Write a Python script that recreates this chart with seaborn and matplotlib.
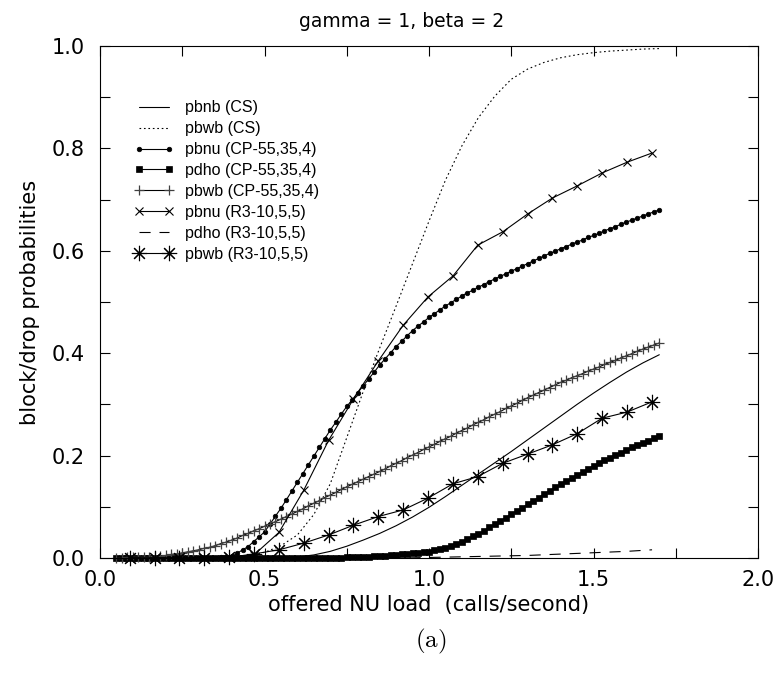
import numpy as np
import matplotlib
import matplotlib.pyplot as plt
import seaborn as sns
from matplotlib.ticker import MultipleLocator, FormatStrFormatter

matplotlib.use('Agg')

# x grids
x_cs = np.linspace(0.05, 1.70, 34)
x_cp = np.linspace(0.05, 1.70, 100)
x_r3 = [0.090, 0.166, 0.241, 0.317, 0.392, 0.468, 0.544, 0.619, 0.695, 0.770, 0.846,
        0.922, 0.997, 1.073, 1.148, 1.224, 1.300, 1.375, 1.451, 1.526, 1.602, 1.678]

# CS curves
pbnb_cs = [0, 0, 0, 0, 0, 0, 0, 0, 0.0002, 0.0005, 0.001, 0.002, 0.006, 0.013, 0.023,
           0.035, 0.048, 0.063, 0.080, 0.099, 0.120, 0.142, 0.164, 0.186, 0.208, 0.231,
           0.254, 0.277, 0.300, 0.322, 0.343, 0.363, 0.381, 0.397]
pbwb_cs = [0, 0, 0, 0, 0, 0.0002, 0.0005, 0.002, 0.005, 0.011, 0.024, 0.045, 0.085, 0.145,
           0.235, 0.325, 0.410, 0.492, 0.575, 0.658, 0.738, 0.805, 0.860, 0.902, 0.935,
           0.955, 0.968, 0.977, 0.983, 0.987, 0.990, 0.992, 0.994, 0.995]

# CP-55,35,4 curves
pbnu_cp = [0, 0, 0, 0, 0, 0, 0, 0, 0, 0, 0, 0, 0, 0, 0, 0, 0, 0,
           0.0005, 0.001, 0.002, 0.003, 0.009, 0.016, 0.022, 0.032, 0.041,
           0.051, 0.066, 0.082, 0.097, 0.114, 0.131, 0.148, 0.165, 0.182,
           0.199, 0.216, 0.233, 0.250, 0.265, 0.281, 0.296, 0.309, 0.323,
           0.336, 0.350, 0.363, 0.377, 0.389, 0.401, 0.413, 0.423, 0.434,
           0.444, 0.453, 0.461, 0.470, 0.477, 0.485, 0.492, 0.499, 0.505,
           0.512, 0.518, 0.523, 0.529, 0.534, 0.540, 0.545, 0.550, 0.555,
           0.560, 0.565, 0.570, 0.575, 0.580, 0.585, 0.590, 0.595, 0.599,
           0.604, 0.608, 0.613, 0.617, 0.621, 0.626, 0.630, 0.634, 0.639,
           0.643, 0.647, 0.652, 0.656, 0.660, 0.664, 0.668, 0.672, 0.676, 0.680]
pdho_cp = [0] * 39 + [
           0.0005, 0.0007, 0.0008, 0.001, 0.0013, 0.0017, 0.002, 0.0027, 0.0033,
           0.004, 0.0047, 0.0053, 0.006, 0.007, 0.008, 0.009, 0.010, 0.011,
           0.012, 0.015, 0.017, 0.020, 0.024, 0.028, 0.032, 0.037, 0.042,
           0.047, 0.053, 0.060, 0.066, 0.072, 0.079, 0.085, 0.092, 0.098,
           0.105, 0.112, 0.118, 0.125, 0.131, 0.138, 0.144, 0.150, 0.156,
           0.162, 0.168, 0.174, 0.180, 0.185, 0.191, 0.196, 0.201, 0.206,
           0.211, 0.216, 0.220, 0.225, 0.229, 0.234, 0.238]
pbwb_cp = [0.000, 0.000, 0.001, 0.001, 0.001, 0.002, 0.002, 0.003, 0.004,
           0.005, 0.007, 0.008, 0.010, 0.012, 0.014, 0.016, 0.019, 0.021,
           0.024, 0.028, 0.031, 0.035, 0.039, 0.044, 0.048, 0.053, 0.057,
           0.062, 0.067, 0.071, 0.076, 0.081, 0.086, 0.091, 0.096, 0.102,
           0.107, 0.112, 0.118, 0.123, 0.128, 0.134, 0.139, 0.144, 0.149,
           0.154, 0.159, 0.164, 0.169, 0.174, 0.180, 0.185, 0.190, 0.196,
           0.201, 0.206, 0.212, 0.217, 0.222, 0.228, 0.233, 0.238, 0.244,
           0.249, 0.254, 0.260, 0.265, 0.270, 0.276, 0.281, 0.286, 0.292,
           0.297, 0.302, 0.308, 0.313, 0.318, 0.323, 0.328, 0.333, 0.338,
           0.343, 0.347, 0.352, 0.356, 0.360, 0.365, 0.369, 0.373, 0.378,
           0.382, 0.386, 0.391, 0.395, 0.399, 0.404, 0.408, 0.412, 0.416, 0.420]

# R3-10,5,5 curves
pbnu_r3 = [0, 0, 0, 0, 0.001, 0.006, 0.050, 0.132, 0.230, 0.310, 0.385,
           0.455, 0.510, 0.551, 0.611, 0.637, 0.672, 0.703, 0.727, 0.752, 0.773, 0.791]
pdho_r3 = [0, 0, 0, 0, 0, 0, 0, 0, 0, 0, 0,
           0, 0.001, 0.002, 0.003, 0.004, 0.005, 0.007, 0.009, 0.011, 0.013, 0.016]
pbwb_r3 = [0, 0, 0, 0, 0.001, 0.008, 0.016, 0.029, 0.045, 0.064, 0.081,
           0.094, 0.117, 0.145, 0.159, 0.185, 0.203, 0.221, 0.243, 0.273, 0.285, 0.305]


def main():
    sns.set_style('ticks')
    plt.rcParams['font.family'] = ['DejaVu Sans']
    plt.rcParams['mathtext.fontset'] = 'cm'
    for key in ['text.color', 'axes.labelcolor', 'xtick.color', 'ytick.color',
                'axes.edgecolor']:
        plt.rcParams[key] = 'black'

    fig = plt.figure(figsize=(7.8, 6.73), dpi=100)
    ax = fig.add_axes([100 / 780, 115 / 673, 658 / 780, 512 / 673])

    lw = 0.8
    common = dict(ax=ax, color='k', lw=lw, clip_on=False)
    sns.lineplot(x=x_cs, y=pbnb_cs, label='pbnb (CS)', **common)
    sns.lineplot(x=x_cs, y=pbwb_cs, label='pbwb (CS)', linestyle=(0, (1.5, 2.5)), **common)
    sns.lineplot(x=x_cp, y=pbnu_cp, label='pbnu (CP-55,35,4)', marker='o', ms=3.3,
                 mec='k', mew=0.5, **common)
    sns.lineplot(x=x_cp, y=pdho_cp, label='pdho (CP-55,35,4)', marker='s', ms=4.5,
                 mec='k', mew=0.5, **common)
    sns.lineplot(x=x_cp, y=pbwb_cp, label='pbwb (CP-55,35,4)', marker='+', ms=7,
                 mec='0.25', mew=0.9, **common)
    sns.lineplot(x=x_r3, y=pbnu_r3, label='pbnu (R3-10,5,5)', marker='x', ms=5.5,
                 mec='k', mew=0.8, **common)
    sns.lineplot(x=x_r3, y=pdho_r3, label='pdho (R3-10,5,5)', linestyle=(0, (10, 8)),
                 **common)
    sns.lineplot(x=x_r3, y=pbwb_r3, label='pbwb (R3-10,5,5)', marker=(8, 2, 0), ms=11,
                 mec='k', mew=0.8, **common)

    ax.set_xlim(0, 2)
    ax.set_ylim(0, 1)
    ax.xaxis.set_major_locator(MultipleLocator(0.5))
    ax.xaxis.set_minor_locator(MultipleLocator(0.25))
    ax.yaxis.set_major_locator(MultipleLocator(0.2))
    ax.yaxis.set_minor_locator(MultipleLocator(0.1))
    ax.xaxis.set_major_formatter(FormatStrFormatter('%.1f'))
    ax.yaxis.set_major_formatter(FormatStrFormatter('%.1f'))
    for side in ['top', 'right', 'left', 'bottom']:
        ax.spines[side].set_visible(True)
        ax.spines[side].set_linewidth(0.8)
        ax.spines[side].set_color('k')
    ax.tick_params(which='both', direction='in', length=7, width=0.8, color='k',
                   top=True, right=True, labelsize=15, labelcolor='k')
    ax.tick_params(axis='y', pad=11)
    ax.tick_params(axis='x', pad=9)

    ax.set_xlabel('offered NU load  (calls/second)', fontsize=15, labelpad=3)
    ax.set_ylabel('block/drop probabilities', fontsize=15, labelpad=8)
    ax.set_title('gamma = 1, beta = 2', fontsize=13.5, pad=14, x=0.459)

    ax.legend(loc='upper left', bbox_to_anchor=(0.052, 0.894), frameon=False,
              prop={'family': 'Liberation Sans', 'size': 11.5}, numpoints=2,
              handlelength=2.5, handletextpad=0.7, labelspacing=0.37,
              borderpad=0, borderaxespad=0)

    fig.text(431 / 780, 1 - 641 / 673, r'$\mathrm{(a)}$', fontsize=18,
             ha='center', va='center')

    fig.savefig('out.png', dpi=100)


if __name__ == "__main__":
    main()
